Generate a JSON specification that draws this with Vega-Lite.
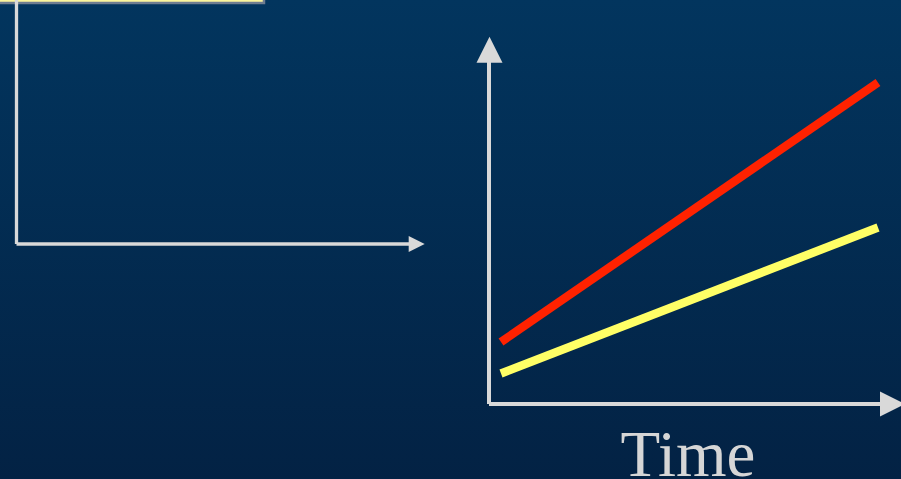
{
  "$schema": "https://vega.github.io/schema/vega-lite/v6.json",
  "width": 901,
  "height": 479,
  "padding": 0,
  "autosize": {"type": "none"},
  "background": "#022a50",
  "config": {"view": {"stroke": null}},
  "datasets": {
    "bg": [{"x0": 0, "x1": 901, "y0": 0, "y1": 479}],
    "box": [{"x0": -5, "x1": 264, "y0": -40, "y1": 3}],
    "axesL": [
      {"x": 16.5, "y": -5, "x2": 16.5, "y2": 244},
      {"x": 16.5, "y": 244, "x2": 412, "y2": 244}
    ],
    "axesR": [
      {"x": 489, "y": 404, "x2": 489, "y2": 55},
      {"x": 489, "y": 404, "x2": 884, "y2": 404}
    ],
    "heads": [
      {"id": "left", "x": 416.7, "y": 244},
      {"id": "up", "x": 489.5, "y": 49.7},
      {"id": "right", "x": 892.5, "y": 404}
    ],
    "trends": [
      {"series": "A", "t": 501, "v": 342},
      {"series": "A", "t": 878, "v": 82.5},
      {"series": "B", "t": 501, "v": 373.5},
      {"series": "B", "t": 878, "v": 227.5}
    ],
    "label": [{"x": 688, "y": 476, "text": "Time"}]
  },
  "layer": [
    {
      "data": {"name": "bg"},
      "mark": {
        "type": "rect",
        "fill": {
          "gradient": "linear",
          "x1": 0, "y1": 0, "x2": 0, "y2": 1,
          "stops": [
            {"offset": 0, "color": "#02355e"},
            {"offset": 1, "color": "#032244"}
          ]
        }
      },
      "encoding": {
        "x": {"field": "x0", "type": "quantitative", "scale": {"domain": [0, 901], "nice": false, "zero": false}, "axis": null},
        "x2": {"field": "x1"},
        "y": {"field": "y0", "type": "quantitative", "scale": {"domain": [0, 479], "nice": false, "zero": false, "reverse": true}, "axis": null},
        "y2": {"field": "y1"}
      }
    },
    {
      "data": {"name": "box"},
      "mark": {"type": "rect", "fill": "#fbf59c", "stroke": "#6f7d90", "strokeWidth": 2.5},
      "encoding": {
        "x": {"field": "x0", "type": "quantitative"},
        "x2": {"field": "x1"},
        "y": {"field": "y0", "type": "quantitative"},
        "y2": {"field": "y1"}
      }
    },
    {
      "data": {"name": "axesL"},
      "mark": {"type": "rule", "color": "#d9d9d9", "strokeWidth": 3.3},
      "encoding": {
        "x": {"field": "x", "type": "quantitative"},
        "y": {"field": "y", "type": "quantitative"},
        "x2": {"field": "x2"},
        "y2": {"field": "y2"}
      }
    },
    {
      "data": {"name": "axesR"},
      "mark": {"type": "rule", "color": "#d9d9d9", "strokeWidth": 4},
      "encoding": {
        "x": {"field": "x", "type": "quantitative"},
        "y": {"field": "y", "type": "quantitative"},
        "x2": {"field": "x2"},
        "y2": {"field": "y2"}
      }
    },
    {
      "data": {"name": "heads"},
      "transform": [{"filter": "datum.id === 'left'"}],
      "mark": {"type": "point", "shape": "M1,0L-1,-1L-1,1Z", "size": 256, "filled": true, "fill": "#d9d9d9", "opacity": 1, "strokeWidth": 0},
      "encoding": {
        "x": {"field": "x", "type": "quantitative"},
        "y": {"field": "y", "type": "quantitative"}
      }
    },
    {
      "data": {"name": "heads"},
      "transform": [{"filter": "datum.id === 'up'"}],
      "mark": {"type": "point", "shape": "M0,-1L-1,1L1,1Z", "size": 676, "filled": true, "fill": "#d9d9d9", "opacity": 1, "strokeWidth": 0},
      "encoding": {
        "x": {"field": "x", "type": "quantitative"},
        "y": {"field": "y", "type": "quantitative"}
      }
    },
    {
      "data": {"name": "heads"},
      "transform": [{"filter": "datum.id === 'right'"}],
      "mark": {"type": "point", "shape": "M1,0L-1,-1L-1,1Z", "size": 625, "filled": true, "fill": "#d9d9d9", "opacity": 1, "strokeWidth": 0},
      "encoding": {
        "x": {"field": "x", "type": "quantitative"},
        "y": {"field": "y", "type": "quantitative"}
      }
    },
    {
      "data": {"name": "trends"},
      "mark": {"type": "line", "strokeWidth": 8.5, "strokeCap": "butt"},
      "encoding": {
        "x": {"field": "t", "type": "quantitative"},
        "y": {"field": "v", "type": "quantitative"},
        "color": {"field": "series", "type": "nominal", "scale": {"domain": ["A", "B"], "range": ["#ff2200", "#ffff66"]}, "legend": null}
      }
    },
    {
      "data": {"name": "label"},
      "mark": {"type": "text", "font": "Liberation Serif", "fontSize": 65, "color": "#d6d6d6", "align": "center", "baseline": "alphabetic"},
      "encoding": {
        "x": {"field": "x", "type": "quantitative"},
        "y": {"field": "y", "type": "quantitative"},
        "text": {"field": "text"}
      }
    }
  ]
}
